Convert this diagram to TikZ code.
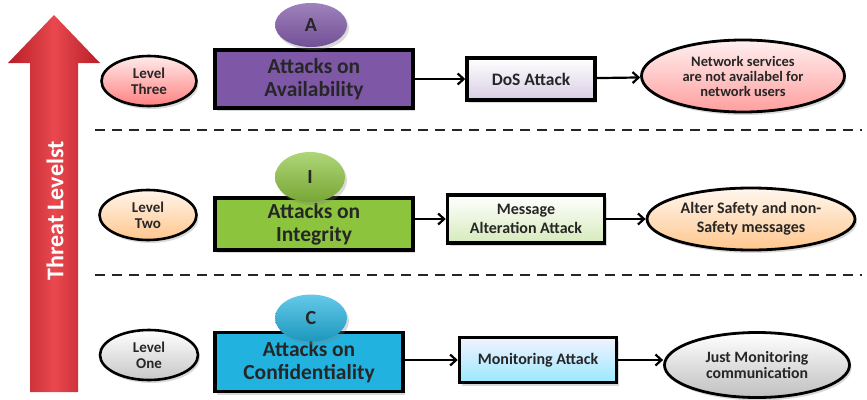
\documentclass[tikz,border=0pt]{standalone}
\usepackage{fontspec}
\newfontfamily\carl{Carlito}
\usetikzlibrary{shapes.geometric,arrows.meta,shadows}

\definecolor{txt}{HTML}{262626}
\definecolor{redD}{HTML}{B81E28}
\definecolor{redL}{HTML}{E8484E}
\definecolor{purpleBox}{HTML}{7E58A6}
\definecolor{greenBox}{HTML}{8CC43E}
\definecolor{blueBox}{HTML}{22B2DF}

\tikzset{
  shade/.style={drop shadow={opacity=0.3, shadow xshift=2pt, shadow yshift=-3pt}},
  lvl/.style={ellipse, draw=black, line width=2.6pt, inner sep=0pt, align=center,
    minimum width=95pt, minimum height=50pt, text=txt, shade,
    font=\carl\bfseries\fontsize{15}{16}\selectfont},
  bigbox/.style={rectangle, draw=black, line width=3.5pt, inner sep=0pt, align=center,
    text=txt, shade, font=\carl\bfseries\fontsize{21.5}{23}\selectfont},
  letter/.style={ellipse, inner sep=0pt, text=txt, shade,
    font=\carl\bfseries\fontsize{20}{21}\selectfont},
  smallbox/.style={rectangle, draw=black, line width=3.5pt, inner sep=0pt, align=center,
    text=txt, shade, font=\carl\bfseries\fontsize{17.5}{19}\selectfont},
  oval/.style={ellipse, draw=black, line width=2.8pt, inner sep=0pt, align=center,
    text=txt, shade, font=\carl\bfseries\fontsize{14.5}{15}\selectfont},
  arr/.style={-{Straight Barb[length=6pt,width=11pt,line width=2.2pt]}, line width=2.2pt, black},
  sep/.style={line width=2.8pt, black!85, dash pattern=on 10pt off 7pt}
}

\begin{document}
\begin{tikzpicture}[x=1pt,y=-1pt]
\useasboundingbox (0,0) rectangle (867,399);

% threat scale arrow
\path[left color=redD, right color=redD, middle color=redL]
  (30,392) -- (30,63) -- (8,63) -- (54,15) -- (100,63) -- (78,63) -- (78,392) -- cycle;
\node[rotate=90, text=white, font=\carl\bfseries\fontsize{24}{26}\selectfont] (scale) at (55,211) {Threat Levelst};

% separators between the levels
\coordinate (s1a) at (95,130);
\coordinate (s1b) at (862,130);
\coordinate (s2a) at (95,275);
\coordinate (s2b) at (862,275);
\draw[sep] (s1a) -- (s1b);
\draw[sep] (s2a) -- (s2b);

% level three: availability
\node[lvl, top color=red!8, bottom color=red!40!pink!90] (l3) at (149,81) {Level\\Three};
\node[bigbox, fill=purpleBox, minimum width=198pt, minimum height=58pt] (avail) at (314,79) {Attacks on\\Availability};
\node[letter, top color=purpleBox!75, bottom color=purpleBox!90!black, minimum width=72pt, minimum height=44pt] (A) at (311,25) {A};
\node[smallbox, top color=white, bottom color=purpleBox!30, minimum width=128pt, minimum height=42pt] (dos) at (531,79) {DoS Attack};
\node[oval, top color=red!6, bottom color=red!38, minimum width=203pt, minimum height=72pt] (net) at (743,76) {Network services\\are not availabel for\\network users};
\draw[arr] (avail) -- (dos);
\draw[arr] (dos) -- (net);

% level two: integrity
\node[lvl, top color=orange!8, bottom color=orange!45, minimum width=97pt] (l2) at (148,215) {Level\\Two};
\node[bigbox, fill=greenBox, minimum width=198pt, minimum height=52pt] (integ) at (314,224) {Attacks on\\Integrity};
\node[letter, top color=greenBox!70, bottom color=greenBox!85!black, minimum width=70pt, minimum height=50pt] (I) at (310,177) {I};
\node[smallbox, top color=white, bottom color=greenBox!35, minimum width=157pt, minimum height=48pt, font=\carl\bfseries\fontsize{16}{19}\selectfont] (msg) at (526,219) {Message\\Alteration Attack};
\node[oval, top color=orange!6, bottom color=orange!45, minimum width=208pt, minimum height=62pt, font=\carl\bfseries\fontsize{16}{19}\selectfont] (alt) at (751,219) {Alter Safety and non-\\Safety messages};
\draw[arr] (integ.east |- msg.west) -- (msg.west);
\draw[arr] (msg.east) -- (msg.east -| alt.west);

% level one: confidentiality
\node[lvl, top color=white, bottom color=black!22, minimum width=98pt] (l1) at (149,355) {Level\\One};
\node[bigbox, fill=blueBox, minimum width=188pt, minimum height=59pt] (conf) at (309,362) {Attacks on\\Confidentiality};
\node[letter, top color=blueBox!70, bottom color=blueBox!85!black, minimum width=72pt, minimum height=47pt] (C) at (311,318) {C};
\node[smallbox, top color=blue!5, bottom color=blue!22!cyan!40, minimum width=157pt, minimum height=45pt, font=\carl\bfseries\fontsize{16}{18}\selectfont] (mon) at (538,360) {Monitoring Attack};
\node[oval, top color=white, bottom color=black!25, minimum width=185pt, minimum height=65pt, font=\carl\bfseries\fontsize{15.8}{16.5}\selectfont] (just) at (757,365) {Just Monitoring\\communication};
\draw[arr] (conf.east |- mon.west) -- (mon.west);
\draw[arr] (mon.east) -- (mon.east -| just.west);
\end{tikzpicture}
\end{document}
